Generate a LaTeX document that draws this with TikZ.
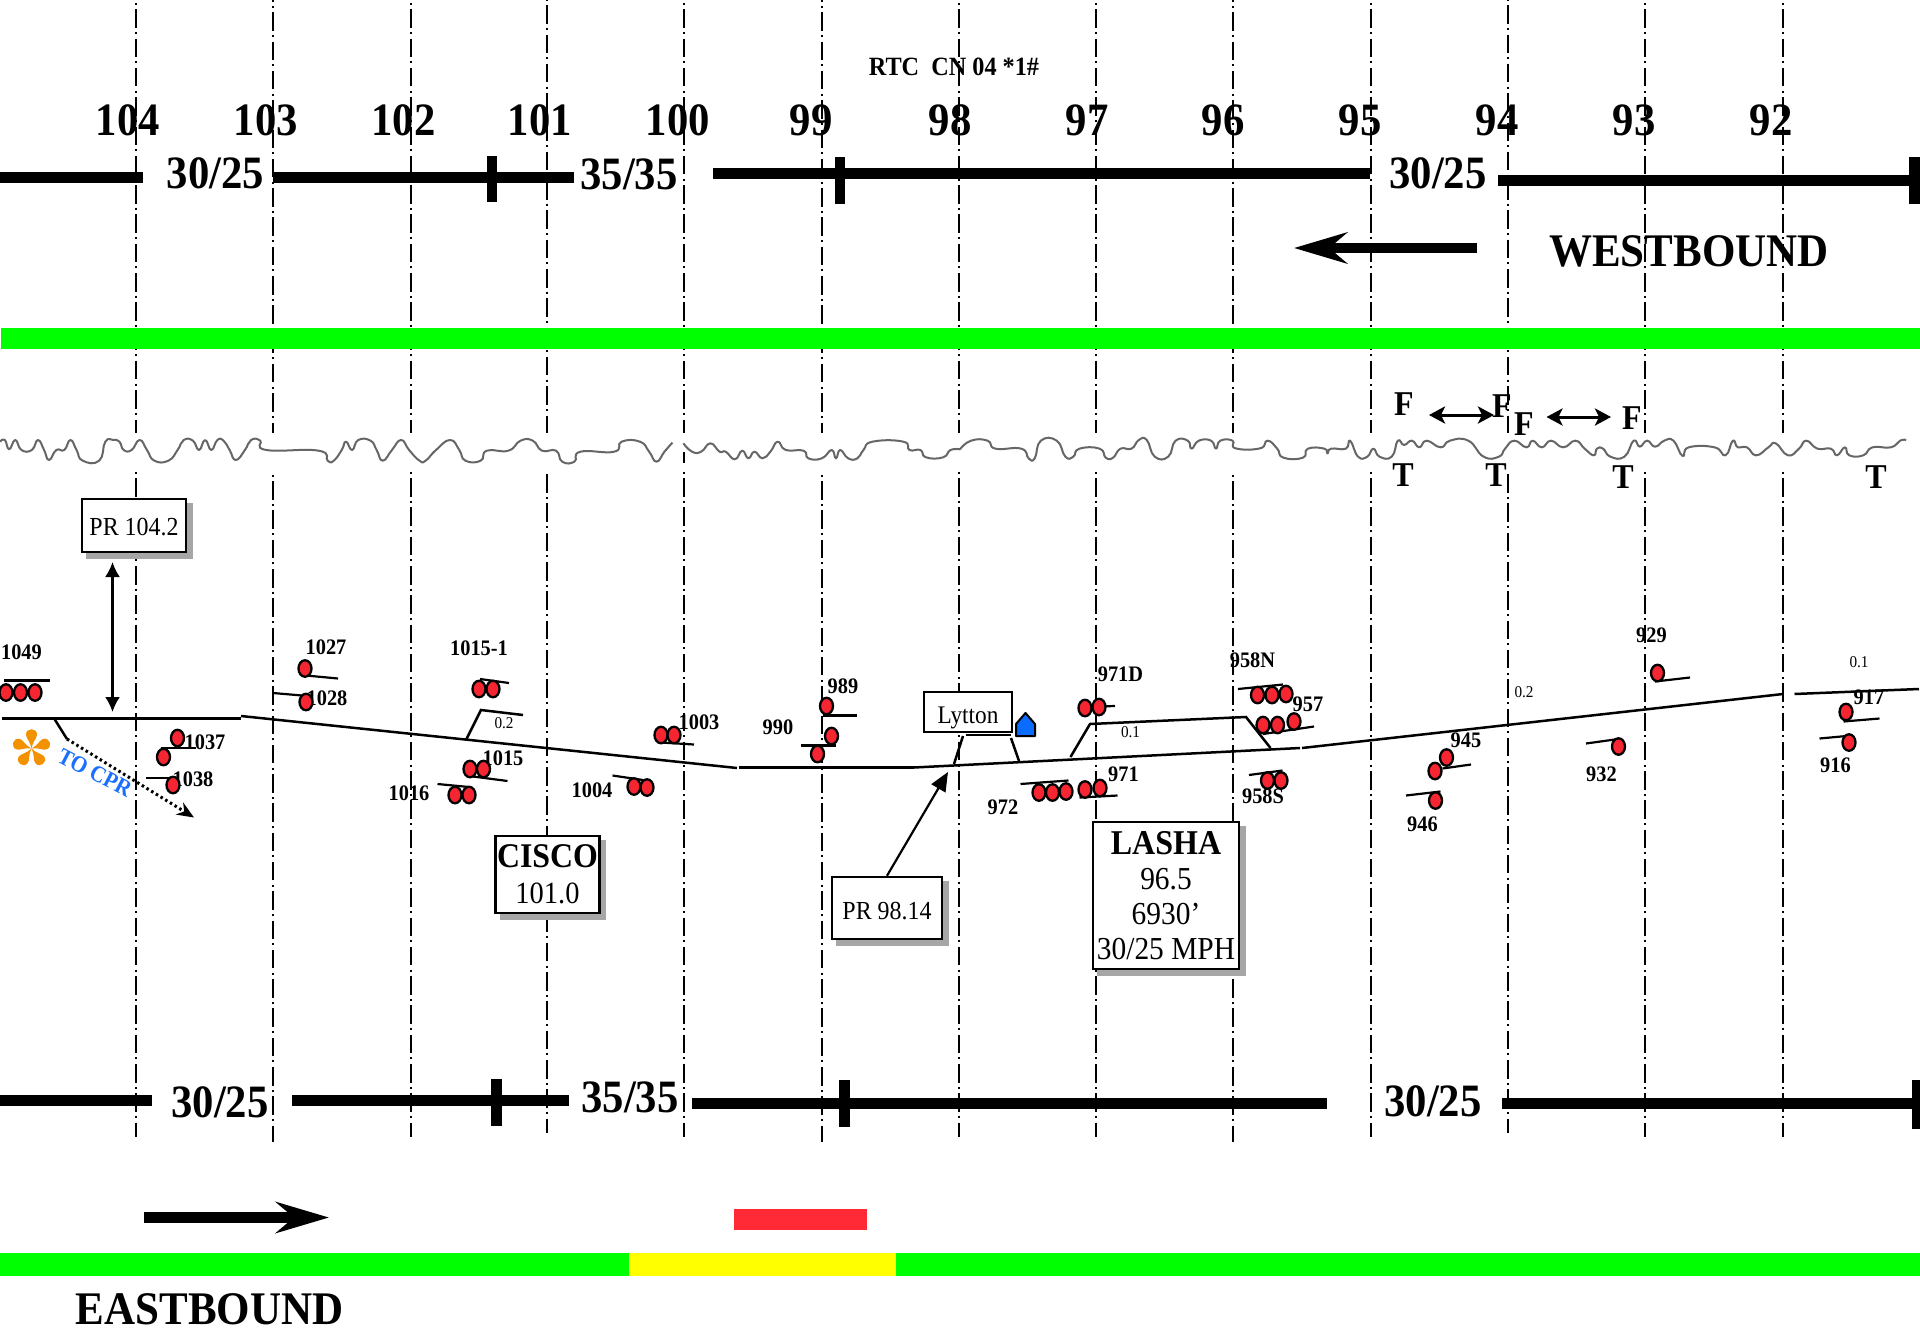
\documentclass[tikz,border=0pt]{standalone}
\usepackage{xcolor}
\usepackage{fontspec}
\setmainfont{Liberation Serif}[FakeStretch=0.92]
\usetikzlibrary{shapes.geometric,arrows.meta,shadows}
\definecolor{bargreen}{HTML}{00FF00}
\definecolor{baryellow}{HTML}{FFFF00}
\definecolor{barred}{HTML}{FF2A36}
\definecolor{lampred}{HTML}{F52632}
\definecolor{shadowgrey}{HTML}{A6A6A6}
\definecolor{wavegrey}{HTML}{666666}
\definecolor{houseblue}{HTML}{0A6CFF}
\definecolor{cprblue}{HTML}{1A6FFF}
\definecolor{flowerorange}{HTML}{F39200}
\tikzset{
  mile/.style={line width=.23mm, dash pattern=on 1.85mm off .42mm on .2mm off .46mm},
  speedbar/.style={line width=1.1mm},
  speedtick/.style={line width=1.05mm},
  bignum/.style={font=\fontsize{13.2}{15}\selectfont\bfseries, inner sep=0pt},
  bound/.style={font=\fontsize{13.3}{15}\selectfont\bfseries, inner sep=0pt},
  ftmark/.style={font=\fontsize{9.9}{11}\selectfont\bfseries, inner sep=0pt},
  tag/.style={font=\fontsize{6.3}{7}\selectfont\bfseries, inner sep=0pt},
  grade/.style={font=\fontsize{4.7}{5}\selectfont, inner sep=0pt},
  lamp/.style={ellipse, draw, line width=.23mm, fill=lampred, minimum width=1.3mm, minimum height=1.65mm, inner sep=0pt},
  post/.style={line width=.22mm},
  track/.style={line width=.25mm},
  signbox/.style={rectangle, draw, line width=.25mm, fill=white, align=center, inner sep=0pt, font=\fontsize{7.4}{9}\selectfont},
  shadowbox/.style={signbox, copy shadow={shadow xshift=.55mm, shadow yshift=-.55mm, fill=shadowgrey, draw=shadowgrey}},
  wave/.style={draw=wavegrey, line width=.2mm, line join=round},
  bigarrow/.style={line width=1.08mm, -{Stealth[length=5.3mm, width=3.1mm, inset=1.8mm]}},
  smallarrow/.style={line width=.3mm, {Stealth[length=1.6mm, width=1.7mm, inset=.4mm]}-{Stealth[length=1.6mm, width=1.7mm, inset=.4mm]}}
}
\begin{document}
\begin{tikzpicture}[x=.1mm, y=-.1mm]
\useasboundingbox (0,0) rectangle (1920,1332);
\foreach \x/\y/\e in {136/-20/1137,273/-17/1142,411/-20/1137,547/-24/1133,684/-20/1137,822/-17/1142,959/-20/1137,1096/-20/1137,1233/-17/1142,1371/-20/1137,1508/-24/1133,1645/-20/1137,1783/-20/1137}
  \draw[mile] (\x,\y) -- (\x,\e);
\fill[white] (0,433) rectangle (1920,472);
\draw[post] (684,452) -- (684,463);
\draw[wave, shift={(0,420)}, xscale=.6124, yscale=.3333] plot[smooth, tension=.85] coordinates {(0,65) (8,60) (15,88) (25,60) (35,90) (52,90) (62,60) (72,90) (80,120) (92,90) (105,90) (115,60) (125,90) (135,122) (162,122) (172,65) (185,60) (195,65) (202,90) (215,90) (228,60) (240,90) (252,122) (275,122) (290,90) (300,60) (315,62) (325,90) (335,60) (345,90) (355,60) (365,62) (375,90) (385,120) (400,90) (410,60) (425,62) (435,90) (520,92) (535,122) (545,122) (558,90) (565,65) (575,90) (585,60) (605,62) (615,90) (625,122) (640,90) (655,60) (668,90) (685,122) (695,122) (712,90) (735,60) (750,90) (760,122) (785,122) (795,92) (830,92) (850,62) (870,62) (885,92) (908,92) (918,125) (938,125) (948,95) (1003,95) (1015,65) (1045,65) (1060,95) (1072,125) (1085,95) (1098,68)};
\draw[wave, shift={(0,420)}, xscale=.6124, yscale=.3333] plot[smooth, tension=.85] coordinates {(1116,70) (1130,95) (1145,95) (1160,70) (1175,95) (1185,95) (1200,118) (1212,92) (1222,115) (1232,95) (1245,115) (1258,95) (1270,65) (1283,90) (1312,92) (1320,115) (1342,115) (1358,90) (1365,115) (1372,90) (1385,115) (1400,115) (1410,90) (1425,65) (1475,65) (1485,90) (1503,90) (1512,112) (1540,112) (1552,90) (1568,88)};
\draw[wave, shift={(960,390)}, xscale=.6124, yscale=.3333] plot[smooth, tension=.85] coordinates {(0,178) (18,152) (45,152) (58,176) (100,176) (112,205) (122,205) (132,152) (158,152) (172,200) (185,200) (195,176) (228,176) (238,203) (250,203) (262,176) (280,176) (292,150) (305,150) (318,200) (340,200) (352,152) (372,152) (378,176) (390,152) (410,152) (418,176) (425,152) (445,152) (450,175) (490,175) (502,152) (518,176) (528,203) (560,203) (568,176) (595,176) (600,190) (606,176) (630,176) (637,152) (650,200) (665,200) (675,176) (685,200) (705,200) (715,152) (725,165) (738,152) (750,172) (762,152) (785,172) (800,152) (830,152) (855,200) (880,200) (890,176) (905,152) (925,172) (935,152) (950,172) (965,152) (985,172) (1005,152) (1020,176) (1035,196) (1040,176) (1050,176) (1062,200) (1085,200) (1100,152) (1110,170) (1122,152) (1135,170) (1150,152) (1165,152) (1180,198) (1190,172) (1232,172) (1250,196) (1262,152) (1270,172) (1285,172) (1300,196) (1320,172) (1332,160) (1352,196) (1370,176) (1382,152) (1400,176) (1422,176) (1432,196) (1445,172) (1452,196) (1475,196) (1490,172) (1520,172) (1535,152) (1545,150)};
\fill[bargreen] (1,328) rectangle (1920,349);
\fill[bargreen] (0,1253) rectangle (629,1276);
\fill[baryellow] (629,1253) rectangle (896,1276);
\fill[bargreen] (896,1253) rectangle (1920,1276);
\fill[barred] (734,1209) rectangle (867,1230);
\draw[speedbar] (0,177.5) -- (143,177.5);
\draw[speedbar] (273,177.5) -- (574,177.5);
\draw[speedtick] (492,156) -- (492,202);
\draw[speedbar] (713,173.5) -- (1370,173.5);
\draw[speedtick] (840,157) -- (840,204);
\draw[speedbar] (1498,180) -- (1920,180);
\draw[speedtick] (1914.5,157) -- (1914.5,204);
\draw[speedbar] (0,1100.5) -- (152,1100.5);
\draw[speedbar] (292,1100.5) -- (569,1100.5);
\draw[speedtick] (496.5,1079) -- (496.5,1126);
\draw[speedbar] (692,1103) -- (1327,1103);
\draw[speedtick] (844.5,1080) -- (844.5,1127);
\draw[speedbar] (1502,1103) -- (1920,1103);
\draw[speedtick] (1917,1080) -- (1917,1129);
\foreach \t/\x in {104/128,103/266,102/403.5,101/540,100/678,99/811,98/950,97/1087,96/1223,95/1360,94/1497,93/1634,92/1771}
  \node[bignum] (km\t) at (\x,120) {\t};
\node[bignum] (speeda) at (215.5,173) {30/25};
\node[bignum] (speedb) at (629,174) {35/35};
\node[bignum] (speedc) at (1438,173) {30/25};
\node[bignum] (speedd) at (220,1102) {30/25};
\node[bignum] (speede) at (630,1097) {35/35};
\node[bignum] (speedf) at (1433,1101) {30/25};
\node[font=\fontsize{7.5}{8}\selectfont\bfseries, inner sep=0pt] (rtc) at (954,67) {RTC\ \ CN 04 *1\#};
\node[bound] (westbound) at (1689,251) {WESTBOUND};
\node[bound] (eastbound) at (209.5,1309) {EASTBOUND};
\coordinate (westtail) at (1477,248);
\coordinate (westtip) at (1294,248);
\draw[bigarrow] (westtail) -- (westtip);
\coordinate (easttail) at (144,1217.5);
\coordinate (easttip) at (329,1217.5);
\draw[bigarrow] (easttail) -- (easttip);
\foreach \n/\x/\y in {fa/1404/404,fb/1502/406,fc/1524/424,fd/1632/418}
  \node[ftmark] (\n) at (\x,\y) {F};
\foreach \n/\x/\y in {ta/1403/475,tb/1496/475,tc/1623/477,td/1876/477}
  \node[ftmark] (\n) at (\x,\y) {T};
\coordinate (fala) at (1429,415);
\coordinate (falb) at (1494,415);
\coordinate (falc) at (1546.5,417);
\coordinate (fald) at (1611,417);
\draw[smallarrow] (fala) -- (falb);
\draw[smallarrow] (falc) -- (fald);
\draw[track] (2,718.5) -- (241,718.5);
\draw[track] (241,716) -- (737,768);
\draw[track] (739,767.5) -- (914,767.5);
\draw[track] (914,767.5) -- (1300,748);
\draw[track] (1302,748) -- (1783,694);
\draw[track] (1794.5,694) -- (1919,689);
\draw[track] (54.5,719) -- (67,739);
\draw[track] (466.5,739) -- (481,710) -- (523,715);
\draw[track] (954,764) -- (963,736);
\draw[track] (966,735) -- (1011,735);
\draw[track] (1011,738) -- (1019,761);
\draw[track] (1070.5,757) -- (1090,724) -- (1246,717) -- (1270.5,748);
\coordinate (cprstart) at (67,739);
\coordinate (cprend) at (194,817.5);
\draw[line width=.3mm, dash pattern=on .25mm off .3mm, -{Stealth[length=1.7mm, width=1.4mm]}] (cprstart) -- (cprend);
\node[font=\fontsize{6.6}{8}\selectfont\bfseries, text=cprblue, rotate=-27.5, inner sep=0pt] (cpr) at (95,773) {TO CPR};
\foreach \a in {90,18,-54,-126,162}
  \fill[flowerorange, shift={(31.5,748.5)}, rotate=\a] (0,0) .. controls (7,-1) and (10,-5.5) .. (14,-5.5) .. controls (21,-5.5) and (21,5.5) .. (14,5.5) .. controls (10,5.5) and (7,1) .. (0,0) -- cycle;
\foreach \t/\x/\y in {1049/21.5/652,1027/326/647,1028/327/698.5,1015-1/479/648,1015/503/758,1016/409/793,1004/592/790,1003/699/722.5,1037/205/742,1038/193/779,989/843/686,990/778/727,971D/1120.5/674,958N/1252.5/660,957/1308/704,971/1123.5/774,972/1003/807,958S/1263/796.5,929/1651.5/635.5,945/1466/740.5,946/1422.5/824,932/1601.5/774,917/1869/697,916/1835.5/765}
  \node[tag] (tag\t) at (\x,\y) {\t};
\node[grade] (gradea) at (504,723) {0.2};
\node[grade] (gradeb) at (1130.5,732) {0.1};
\node[grade] (gradec) at (1524,692) {0.2};
\node[grade] (graded) at (1859,662) {0.1};
\foreach \a/\b/\c/\d in {4.5/680.5/50/680.5,306/675.5/338/678.5,273/693/308/696,480/679/509/683,473/776.5/507.5/781,437.5/784/469/787,612.5/775.5/643/780,661/742.5/694/744.5,160.5/748/196/748,146/778/172/778,822.5/715.5/857/715.5,801/745.5/835.5/745.5,1099/706.5/1115/706,1238/689/1283/684.5,1263/734/1314/726.5,1079.5/797.5/1117.5/795.5,1020.5/784/1068.5/780.5,1249/775/1282.5/770.5,1655/681.5/1690/677.5,1442.5/768.5/1471/764.5,1406/795.5/1440.5/791.5,1586/743.5/1618.5/739,1843.5/721.5/1879.5/718.5,1819.5/738.5/1852/735.5}
  \draw[post] (\a,\b) -- (\c,\d);
\foreach \x/\y [count=\i] in {6/692.5,20.5/692.5,35/692.5,305/668.5,306/702,479/689,493/689,470/769,483.5/769,455/795,469/795,634/786.5,647/787.5,661/735,674/735,177.5/738,163.5/757,173/785,826.5/706,831.5/736,817.5/754,1085/708,1099/707,1257.5/695,1272/695,1286/694,1263/725,1277.5/725,1294/721.5,1085/789.5,1100/788,1039/792.5,1052.5/792.5,1066/791.5,1267.5/780.5,1281/780.5,1657.5/673,1446.5/757.5,1435/771,1435.5/800.5,1618.5/746.5,1846/712,1849/742.5}
  \node[lamp] (lamp\i) at (\x,\y) {};
\node[shadowbox, minimum width=10.4mm, minimum height=5.3mm, text height=1.95mm, text depth=0pt] (pr1042) at (134,525.5) {PR 104.2};
\coordinate (pra) at (112.5,562);
\coordinate (prb) at (112.5,712);
\draw[line width=.22mm, {Latex[length=1.5mm, width=1.5mm]}-{Latex[length=1.5mm, width=1.5mm]}] (pra) -- (prb);
\node[signbox, minimum width=8.8mm, minimum height=4mm, text height=2.2mm, text depth=0pt, font=\fontsize{7.2}{9}\selectfont] (lytton) at (968,712) {Lytton};
\draw[line width=.2mm, fill=houseblue, line join=round] (1016,736) -- (1016,724) -- (1025.5,713) -- (1035,724) -- (1035,736) -- cycle;
\node[shadowbox, minimum width=11mm, minimum height=6.2mm, text height=2.2mm, text depth=0pt] (pr9814) at (887,908) {PR 98.14};
\coordinate (prtip) at (948,772);
\draw[line width=.22mm, -{Stealth[length=1.9mm, width=1.6mm, inset=0pt]}] (pr9814.north) -- (prtip);
\node[shadowbox, minimum width=10.4mm, minimum height=7.7mm, font=\fontsize{8.8}{10.2}\selectfont] (cisco) at (547.5,874.5) {{\fontsize{9.85}{10.2}\selectfont\bfseries CISCO}\\101.0};
\node[shadowbox, minimum width=14.6mm, minimum height=14.7mm, font=\fontsize{9.1}{9.95}\selectfont] (lasha) at (1166,895.5) {{\fontsize{9.9}{9.95}\selectfont\bfseries LASHA}\\96.5\\6930’\\30/25 MPH};
\end{tikzpicture}
\end{document}
